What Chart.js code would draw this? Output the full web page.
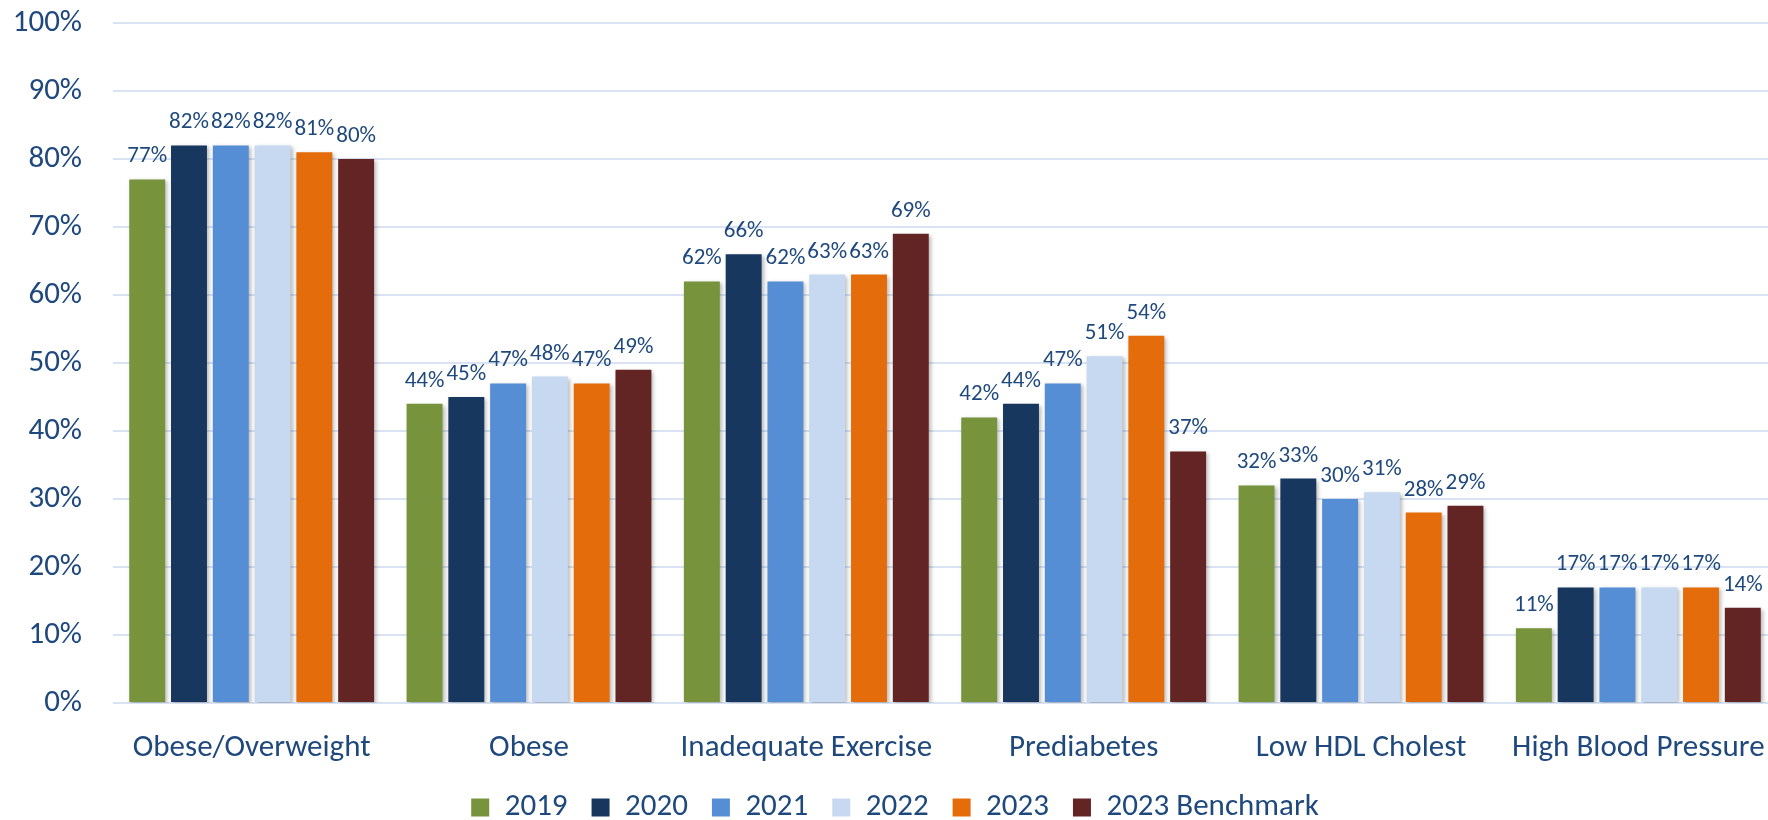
<!DOCTYPE html>
<html>
<head>
<meta charset="utf-8">
<script src="https://cdn.jsdelivr.net/npm/chart.js@4"></script>
<style>
    html, body { margin: 0; padding: 0; background: #fff; overflow: hidden; }
    #wrap { width: 1814px; height: 820px; }
</style>
</head>
<body>
<div id="wrap"><canvas id="myChart" width="1814" height="820"></canvas></div>
<script>
const categories = ['Obese/Overweight', 'Obese', 'Inadequate Exercise', 'Prediabetes', 'Low HDL Cholest', 'High Blood Pressure']
const seriesNames = ['2019', '2020', '2021', '2022', '2023', '2023 Benchmark']
const values2019 = [77, 44, 62, 42, 32, 11]
const values2020 = [82, 45, 66, 44, 33, 17]
const values2021 = [82, 47, 62, 47, 30, 17]
const values2022 = [82, 48, 63, 51, 31, 17]
const values2023 = [81, 47, 63, 54, 28, 17]
const benchmark2023 = [80, 49, 69, 37, 29, 14]
const yTicks = [0, 10, 20, 30, 40, 50, 60, 70, 80, 90, 100]

const seriesValues = [values2019, values2020, values2021, values2022, values2023, benchmark2023]
const colors = ['#77933c', '#17375e', '#558ed5', '#c6d9f1', '#e46c0a', '#632523']
const textColor = '#1f497d'
const fontFamily = 'Calibri, Carlito, Lato, sans-serif'

// schaduw onder de staven, zoals in excel
const barShadow = {
    id: 'barShadow',
    beforeDatasetDraw(chart) {
        const ctx = chart.ctx
        ctx.save()
        ctx.shadowColor = 'rgba(0,0,0,0.28)'
        ctx.shadowBlur = 4
        ctx.shadowOffsetX = 2
        ctx.shadowOffsetY = 2
    },
    afterDatasetDraw(chart) {
        chart.ctx.restore()
    }
}

// percentages boven elke staaf
const valueLabels = {
    id: 'valueLabels',
    afterDatasetsDraw(chart) {
        const ctx = chart.ctx
        ctx.save()
        ctx.fillStyle = textColor
        ctx.font = `23px ${fontFamily}`
        ctx.textAlign = 'center'
        ctx.textBaseline = 'alphabetic'
        chart.data.datasets.forEach((ds, i) => {
            chart.getDatasetMeta(i).data.forEach((bar, j) => {
                ctx.fillText(ds.data[j] + '%', bar.x, bar.y - 17)
            })
        })
        ctx.restore()
    }
}

const canvas = document.getElementById('myChart')

const config = {
    type: 'bar',
    data: {
        labels: categories,
        datasets: seriesNames.map((name, i) => ({
            label: name,
            data: seriesValues[i],
            backgroundColor: colors[i],
            borderWidth: 0,
            barPercentage: 0.86,
            categoryPercentage: 0.904
        }))
    },
    options: {
        responsive: false,
        animation: false,
        devicePixelRatio: 1,
        layout: {
            padding: { left: 13, right: 37, top: 23, bottom: -13 }
        },
        scales: {
            x: {
                grid: { display: false, drawTicks: false },
                border: { display: false },
                ticks: {
                    color: textColor,
                    font: { family: fontFamily, size: 31 },
                    padding: 27,
                    maxRotation: 0,
                    autoSkip: false
                },
                afterFit: scale => {
                    scale.height = 65
                    scale.paddingLeft = 0
                    scale.paddingRight = 0
                }
            },
            y: {
                min: 0,
                max: 100,
                afterBuildTicks: axis => { axis.ticks = yTicks.map(v => ({ value: v })) },
                grid: { color: '#d9e3f3', lineWidth: 2, drawTicks: false },
                border: { display: false },
                ticks: {
                    color: textColor,
                    font: { family: fontFamily, size: 31 },
                    padding: 31,
                    callback: v => v + '%'
                },
                afterFit: scale => {
                    scale.width = 100
                    scale.paddingTop = 0
                    scale.paddingBottom = 0
                }
            }
        },
        plugins: {
            legend: {
                position: 'bottom',
                labels: {
                    color: textColor,
                    font: { family: fontFamily, size: 31 },
                    boxWidth: 18,
                    boxHeight: 18,
                    padding: 24
                }
            },
            tooltip: { enabled: false }
        }
    },
    plugins: [barShadow, valueLabels]
}

const myChart = new Chart(canvas, config)
</script>
</body>
</html>
